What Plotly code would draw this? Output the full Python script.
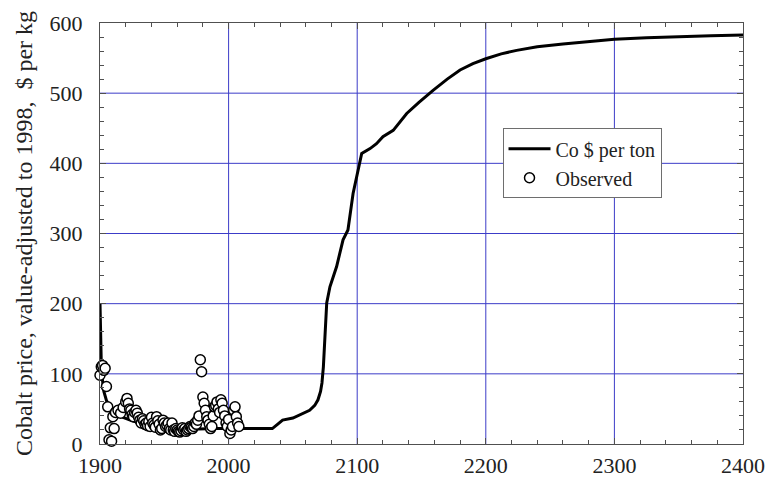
import plotly.graph_objects as go

# Model curve: "Co $ per ton"
model_years = [1900, 1900.5, 1901, 1902, 1903, 1905, 1908, 1912, 1918, 1925, 1935, 1945,
               1955, 1962, 1970, 1980, 1990, 2000, 2010, 2020, 2034, 2038, 2042, 2050,
               2055, 2063, 2067, 2069.5, 2071.5, 2072.6, 2073.7, 2075, 2076.3, 2078.8,
               2084, 2089, 2092.8, 2096.8, 2100.6, 2103.5, 2110, 2115, 2120, 2128,
               2138.5, 2148, 2159, 2170, 2180, 2190, 2200, 2212, 2224, 2240, 2260, 2280,
               2300, 2325, 2350, 2375, 2400]
model_values = [201, 150, 115, 90, 75, 62, 52, 45, 38, 33, 28, 25,
                22, 20, 21, 22, 22, 22, 22, 22, 22, 28, 34, 37,
                41, 48, 55, 63, 75, 87, 110, 158, 201, 224,
                253, 291, 305, 357, 390, 414, 421, 428, 438, 447,
                471, 487, 504, 520, 533, 542, 549, 556, 561, 566, 570, 574,
                577, 579, 581, 582, 583]

# Observed prices
obs_years = [1900, 1901, 1902, 1903, 1904, 1905, 1906, 1907, 1908, 1909, 1910, 1911,
             1912, 1914, 1916, 1918, 1920, 1921, 1922, 1923, 1924, 1925, 1926, 1927,
             1928, 1929, 1930, 1931, 1932, 1933, 1934, 1935, 1936, 1937, 1938, 1939,
             1940, 1941, 1942, 1943, 1944, 1945, 1946, 1947, 1948, 1949, 1950, 1951,
             1952, 1953, 1954, 1955, 1956, 1957, 1958, 1959, 1960, 1961, 1962, 1963,
             1964, 1965, 1966, 1967, 1968, 1969, 1970, 1971, 1972, 1973, 1974, 1975,
             1976, 1977, 1978, 1979, 1980, 1981, 1982, 1983, 1984, 1985, 1986, 1987,
             1988, 1989, 1990, 1991, 1992, 1993, 1994, 1995, 1996, 1997, 1998, 1999,
             2000, 2001, 2002, 2003, 2004, 2005, 2006, 2007, 2008]
obs_values = [98, 110, 112, 105, 108, 82, 53, 6, 23, 4, 39, 22,
              45, 48, 44, 52, 60, 65, 58, 50, 48, 42, 39, 45,
              48, 44, 38, 34, 30, 36, 33, 28, 30, 26, 32, 25,
              38, 30, 27, 24, 39, 33, 28, 20, 22, 34, 30, 25,
              27, 30, 22, 20, 30, 20, 18, 22, 20, 18, 17, 19,
              23, 20, 22, 18, 20, 22, 25, 24, 22, 25, 30, 28,
              34, 40, 120, 103, 67, 58, 48, 39, 34, 28, 22, 25,
              40, 53, 55, 60, 50, 45, 63, 58, 48, 40, 30, 25,
              35, 15, 20, 25, 48, 53, 39, 30, 25]

x_ticks = [1900, 2000, 2100, 2200, 2300, 2400]
y_ticks = [0, 100, 200, 300, 400, 500, 600]

FONT = "Liberation Serif, Times New Roman, serif"
GRID = "rgb(60,60,200)"
AXIS = "rgb(80,80,80)"

fig = go.Figure()
fig.add_trace(go.Scatter(
    x=model_years, y=model_values, mode="lines", name="Co $ per ton",
    line=dict(color="black", width=3), cliponaxis=False))
fig.add_trace(go.Scatter(
    x=obs_years, y=obs_values, mode="markers", name="Observed",
    marker=dict(symbol="circle", size=10, color="white",
                line=dict(color="black", width=1.5)),
    cliponaxis=False))

# grid lines at the interior major ticks
for xv in x_ticks[1:-1]:
    fig.add_shape(type="line", xref="x", yref="paper", x0=xv, x1=xv, y0=0, y1=1,
                  line=dict(color=GRID, width=1), layer="below")
for yv in y_ticks[1:-1]:
    fig.add_shape(type="line", xref="paper", yref="y", x0=0, x1=1, y0=yv, y1=yv,
                  line=dict(color=GRID, width=1), layer="below")

axis_common = dict(
    showline=True, linecolor=AXIS, linewidth=1, mirror="ticks",
    ticks="inside", ticklen=6, tickcolor=AXIS, tickwidth=1,
    showgrid=False, zeroline=False,
    tickfont=dict(family=FONT, size=22, color="#222"),
    minor=dict(dtick=20, ticks="inside", ticklen=4, tickcolor=AXIS, showgrid=False),
    automargin=False,
)

fig.update_xaxes(range=[1900, 2400], tickvals=x_ticks, ticklabelstandoff=2, **axis_common)
fig.update_yaxes(range=[0, 600], tickvals=y_ticks, ticklabelstandoff=12,
                 title=dict(text="Cobalt price, value-adjusted to 1998,  $ per kg",
                            font=dict(family=FONT, size=24, color="#222"), standoff=10),
                 **axis_common)

fig.update_layout(
    template="none",
    width=768, height=477,
    margin=dict(l=100, r=25, t=23, b=33),
    paper_bgcolor="white", plot_bgcolor="white",
    font=dict(family=FONT, color="#222"),
    legend=dict(x=0.626, y=0.75, xanchor="left", yanchor="top",
                bgcolor="white", bordercolor="rgb(110,110,110)", borderwidth=1,
                font=dict(family=FONT, size=20, color="#222"),
                tracegroupgap=0, itemwidth=42),
    showlegend=True,
)

fig.write_html("out.html")
